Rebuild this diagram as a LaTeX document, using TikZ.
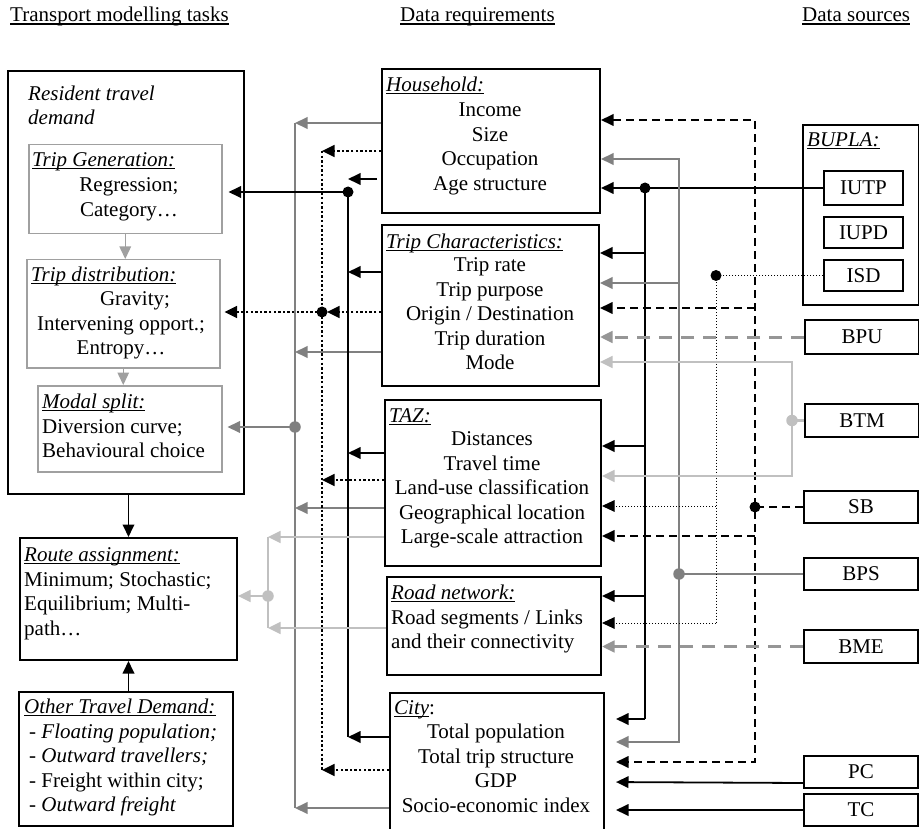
\documentclass[tikz,border=0pt]{standalone}
\usepackage{fontspec}
\setmainfont{Liberation Serif}
\usetikzlibrary{arrows.meta}
\definecolor{midgray}{RGB}{128,128,128}
\definecolor{palegray}{RGB}{192,192,192}
\definecolor{framegray}{RGB}{160,160,160}
\definecolor{dashgray}{RGB}{150,150,150}
% underline at a fixed depth, crossing descenders
\newcommand\ulx[1]{\setbox0\hbox{#1}\rlap{\rule[-2.6pt]{\wd0}{1.1pt}}\box0}
\begin{document}
\begin{tikzpicture}[x=1pt,y=-1pt,
  every node/.style={font=\fontsize{21}{24.5}\selectfont, inner sep=0pt},
  >={Triangle[length=12.5pt,width=11.5pt]},
  box/.style={draw, line width=2pt, anchor=north west},
  ibox/.style={draw=framegray, line width=1.5pt, anchor=north west},
  blk/.style={line width=1.8pt, black},
  gry/.style={line width=2pt, midgray},
  lgry/.style={line width=2.6pt, palegray},
  dotk/.style={line width=2.8pt, black, dash pattern=on 2.4pt off 2.2pt},
  dotn/.style={line width=1pt, black, dash pattern=on 1pt off 2pt},
  dsh/.style={line width=1.8pt, black, dash pattern=on 8pt off 5pt},
  gdsh/.style={line width=3pt, dashgray, dash pattern=on 13pt off 9pt},
  iarr/.style={line width=1.5pt, framegray},
  bdot/.style={circle, fill=black, minimum size=11pt},
  gdot/.style={circle, fill=midgray, minimum size=11.5pt},
  ldot/.style={circle, fill=palegray, minimum size=11.5pt}]
\fill[white] (0,0) rectangle (919,829);
\useasboundingbox (0,0) rectangle (919,829);

% column headings
\node[anchor=base west] (head1) at (10,22) {\ulx{Transport modelling tasks}};
\node[anchor=base west] (head2) at (400,22) {\ulx{Data requirements}};
\node[anchor=base west] (head3) at (802,22) {\ulx{Data sources}};

% ---------- modelling tasks ----------
\node[box, minimum width=236pt, minimum height=423pt] (rtd) at (7,70) {};
\node[anchor=north west, align=left, font=\fontsize{21}{24.5}\selectfont\itshape] (rtdT) at (28,83) {\strut Resident travel\\demand};

\node[ibox, minimum width=193pt, minimum height=89pt] (tg) at (28,144) {};
\node[anchor=base west] (tgT) at (32,166.5) {\ulx{\textit{Trip Generation:}}};
\node[anchor=north, align=center] (tgL) at (129,174.3) {\strut Regression;\\Category…};

\node[ibox, minimum width=193pt, minimum height=108pt] (td) at (26,259) {};
\node[anchor=base west] (tdT) at (31,281.5) {\ulx{\textit{Trip distribution:}}};
\node[anchor=north, align=center] (tdL) at (121,288.3) {\strut\hspace*{28pt}Gravity;\\Intervening opport.;\\Entropy…};

\node[ibox, minimum width=184pt, minimum height=86pt] (ms) at (37,385) {};
\node[anchor=north west, align=left] (msL) at (42,391.3) {\strut\ulx{\textit{Modal split:}}\\Diversion curve;\\Behavioural choice};

\draw[iarr,->] (tg.south) -- (tg.south |- td.north);
\draw[iarr,->] (td.south) -- (td.south |- ms.north);

\node[box, minimum width=217pt, minimum height=122pt] (ra) at (19,537) {};
\node[anchor=north west, align=left] (raL) at (24,544.3) {\strut\ulx{\textit{Route assignment:}}\\Minimum; Stochastic;\\Equilibrium; Multi-\\path…};

\node[box, minimum width=214pt, minimum height=134pt] (otd) at (18,691) {};
\node[anchor=north west, align=left] (otdL) at (24,696.3) {\strut\ulx{\textit{Other Travel Demand:}}\\\hspace*{5pt}- \textit{Floating population;}\\\hspace*{5pt}- \textit{Outward travellers;}\\\hspace*{5pt}- Freight within city;\\\hspace*{5pt}- \textit{Outward freight}};

\draw[blk,->] (ra.north |- rtd.south) -- (ra.north);
\draw[blk,->] (ra.south |- otd.north) -- (ra.south);

% ---------- data requirements ----------
\node[box, minimum width=218pt, minimum height=144pt] (hh) at (381,68) {};
\node[anchor=base west] (hhT) at (386,91.5) {\ulx{\textit{Household:}}};
\node[anchor=north, align=center] (hhL) at (490,99.3) {\strut Income\\Size\\Occupation\\Age structure};

\node[box, minimum width=217pt, minimum height=161pt] (tc) at (381,224) {};
\node[anchor=base west] (tcT) at (386,248.5) {\ulx{\textit{Trip Characteristics:}}};
\node[anchor=north, align=center] (tcL) at (490,254.3) {\strut Trip rate\\Trip purpose\\Origin / Destination\\Trip duration\\Mode};

\node[box, minimum width=216pt, minimum height=166pt] (taz) at (384,399) {};
\node[anchor=base west] (tazT) at (389,422.5) {\ulx{\textit{TAZ:}}};
\node[anchor=north, align=center] (tazL) at (492,428.3) {\strut Distances\\Travel time\\Land-use classification\\Geographical location\\Large-scale attraction};

\node[box, minimum width=214pt, minimum height=98pt] (road) at (386,576) {};
\node[anchor=north west, align=left] (roadL) at (391,582.3) {\strut\ulx{\textit{Road network:}}\\Road segments / Links\\and their connectivity};

\node[box, minimum width=214pt, minimum height=142pt] (city) at (389,692) {};
\node[anchor=base west] (cityT) at (394,714.5) {\ulx{\textit{City}}:};
\node[anchor=north, align=center] (cityL) at (496,721.3) {\strut Total population\\Total trip structure\\GDP\\Socio-economic index};

% ---------- data sources ----------
\node[box, minimum width=116pt, minimum height=180pt] (bupla) at (802,124) {};
\node[anchor=base west] (buplaT) at (807,146.5) {\ulx{\textit{BUPLA:}}};
\node[box, minimum width=79pt, minimum height=34pt] (iutp) at (823,170) {IUTP};
\node[box, minimum width=79pt, minimum height=31pt] (iupd) at (823,216) {IUPD};
\node[box, minimum width=79pt, minimum height=31pt] (isd) at (823,259) {ISD};
\node[box, minimum width=114pt, minimum height=34pt] (bpu) at (804,319) {BPU};
\node[box, minimum width=114pt, minimum height=33pt] (btm) at (804,403) {BTM};
\node[box, minimum width=114pt, minimum height=32pt] (sb) at (803,490) {SB};
\node[box, minimum width=114pt, minimum height=32pt] (bps) at (803,557) {BPS};
\node[box, minimum width=114pt, minimum height=33pt] (bme) at (803,629) {BME};
\node[box, minimum width=114pt, minimum height=32pt] (pc) at (803,755) {PC};
\node[box, minimum width=114pt, minimum height=32pt] (tcs) at (803,793) {TC};

% ---------- bus positions ----------
\coordinate (gT) at (295,123);  \coordinate (gB) at (295,808);  \coordinate (gM) at (295,427);
\coordinate (kT) at (322,151);  \coordinate (kB) at (322,770);  \coordinate (kM) at (322,312);
\coordinate (bT) at (348,192);  \coordinate (bB) at (348,737);
\coordinate (aT) at (268,537);  \coordinate (aB) at (268,628);  \coordinate (aM) at (268,596);
\coordinate (rbT) at (iutp.west -| 645,0); \coordinate (rbB) at (645,719);
\coordinate (rgT) at (679,159); \coordinate (rgB) at (679,742); \coordinate (rgM) at (bps.west -| 679,0);
\coordinate (rdT) at (isd.west -| 716,0); \coordinate (rdB) at (716,623);
\coordinate (rsT) at (755,120); \coordinate (rsB) at (755,762); \coordinate (rsM) at (sb.west -| 755,0);
\coordinate (ltT) at (792,362); \coordinate (ltB) at (792,476); \coordinate (ltM) at (btm.west -| 792,0);

% ---------- left buses ----------
% grey: to modal split
\draw[gry,->] (hh.west |- gT) -- (gT);
\draw[gry] (gT) -- (gB);
\draw[gry,->] (tc.west |- 0,352) -- (gT |- 0,352);
\draw[gry,->] (taz.west |- 0,508) -- (gT |- 0,508);
\draw[gry,->] (city.west |- gB) -- (gB);
\draw[gry,->,shorten >=5pt] (gM) -- (ms.east |- gM);
% dotted: to trip distribution
\draw[dotk,->] (hh.west |- kT) -- (kT);
\draw[dotk] (kT) -- (kB);
\draw[dotk,->,shorten >=5pt] (tc.west |- kM) -- (kM);
\draw[dotk,->] (taz.west |- 0,480) -- (kT |- 0,480);
\draw[dotk,->] (city.west |- kB) -- (kB);
\draw[dotk,->,shorten >=4pt] (kM) -- (td.east |- kM);
% solid: to trip generation
\draw[blk,->,shorten <=4pt] (hh.west |- 0,179) -- (bT |- 0,179);
\draw[blk] (bT) -- (bB);
\draw[blk,->] (tc.west |- 0,272) -- (bT |- 0,272);
\draw[blk,->] (taz.west |- 0,453) -- (bT |- 0,453);
\draw[blk,->] (city.west |- bB) -- (bB);
\draw[blk,->,shorten >=6pt] (bT) -- (tg.east |- bT);
% pale grey: to route assignment
\draw[lgry,->] (taz.west |- aT) -- (aT);
\draw[lgry] (aT) -- (aB);
\draw[lgry,->] (road.west |- aB) -- (aB);
\draw[lgry,->] (aM) -- (ra.east |- aM);

% ---------- right buses ----------
% IUTP
\draw[blk,->] (iutp.west) -- (hh.east |- iutp.west);
\draw[blk] (rbT) -- (rbB);
\draw[blk,->] (rbT |- 0,253) -- (tc.east |- 0,253);
\draw[blk,->] (rbT |- 0,446) -- (taz.east |- 0,446);
\draw[blk,->] (rbT |- 0,596) -- (road.east |- 0,596);
\draw[blk,->,shorten >=11pt] (rbB) -- (city.east |- rbB);
% BPS
\draw[gry,<->,shorten >=11pt] (hh.east |- rgT) -- (rgT) -- (rgB) -- (city.east |- rgB);
\draw[gry,->] (rgT |- 0,283) -- (tc.east |- 0,283);
\draw[gry] (bps.west) -- (rgM);
% ISD
\draw[dotn] (isd.west) -- (rdT) -- (rdB);
\draw[dotn,->] (rdT |- 0,506) -- (taz.east |- 0,506);
\draw[dotn,->] (rdB) -- (road.east |- rdB);
% SB
\draw[dsh,<->,shorten >=11pt] (hh.east |- rsT) -- (rsT) -- (rsB) -- (city.east |- rsB);
\draw[dsh,->] (rsT |- 0,308) -- (tc.east |- 0,308);
\draw[dsh,->] (rsT |- 0,536) -- (taz.east |- 0,536);
\draw[dsh] (sb.west) -- (rsM);
% BPU and BME
\draw[gdsh,->] (bpu.west) -- (tc.east |- bpu.west);
\draw[gdsh,->] (bme.west) -- (road.east |- bme.west);
% BTM
\draw[lgry,<->] (tc.east |- ltT) -- (ltT) -- (ltB) -- (taz.east |- ltB);
\draw[lgry] (btm.west) -- (ltM);
% PC and TC
\draw[blk,->,shorten >=11pt] ([yshift=-11pt]pc.west) -- (city.east |- 0,782);
\draw[blk,->,shorten >=11pt] (tcs.west) -- (city.east |- tcs.west);

% ---------- junction dots ----------
\node[gdot] (gD) at (gM) {};
\node[bdot] (kD) at (kM) {};
\node[bdot] (bD) at (bT) {};
\node[ldot] (aD) at (aM) {};
\node[bdot] (rbD) at (rbT) {};
\node[gdot] (rgD) at (rgM) {};
\node[bdot] (rdD) at (rdT) {};
\node[bdot] (rsD) at (rsM) {};
\node[ldot] (ltD) at (ltM) {};
\end{tikzpicture}
\end{document}
